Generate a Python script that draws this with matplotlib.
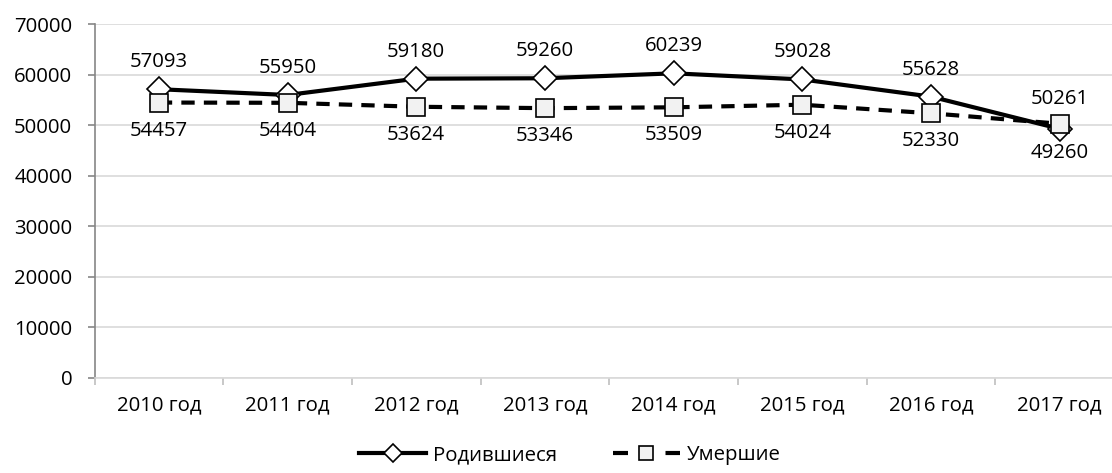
import matplotlib
matplotlib.use("Agg")
import matplotlib.pyplot as plt
from matplotlib.lines import Line2D
from matplotlib.ticker import FixedLocator, NullFormatter

categories = ["2010 год", "2011 год", "2012 год", "2013 год", "2014 год", "2015 год", "2016 год", "2017 год"]
births = [57093, 55950, 59180, 59260, 60239, 59028, 55628, 49260]
deaths = [54457, 54404, 53624, 53346, 53509, 54024, 52330, 50261]
series_names = ["Родившиеся", "Умершие"]
y_ticks = [0, 10000, 20000, 30000, 40000, 50000, 60000, 70000]

plt.rcParams['font.family'] = ['Open Sans', 'DejaVu Sans']
FS = 14.7

W, H = 1112, 473
fig = plt.figure(figsize=(W / 100, H / 100), dpi=100)
ax = fig.add_axes([94.5 / W, (H - 377.7) / H, (1124 - 94.5) / W, (377.7 - 24) / H])

x = list(range(len(categories)))
hb, = ax.plot(x, births, color='black', lw=3, marker='D', ms=12.5,
              mfc='white', mec='black', mew=1.2, zorder=3, label=series_names[0])
hd, = ax.plot(x, deaths, color='black', lw=3, ls=(0, (3.2, 2.2)), marker='s', ms=13.5,
              mfc='#f2f2f2', mec='black', mew=1.2, zorder=4, label=series_names[1])

for i, (b, d) in enumerate(zip(births, deaths)):
    b_above = b >= d
    ax.annotate(str(b), (i, b), textcoords='offset pixels',
                xytext=(0, 27 if b_above else -24), ha='center', va='center', fontsize=FS)
    ax.annotate(str(d), (i, d), textcoords='offset pixels',
                xytext=(0, -28 if b_above else 25), ha='center', va='center', fontsize=FS)

ax.set_xlim(-0.5, len(categories) - 0.5)
ax.set_ylim(0, 70000)
ax.set_yticks(y_ticks)
ax.set_yticklabels([str(v) for v in y_ticks], fontsize=FS)
ax.yaxis.grid(True, color='#d9d9d9', lw=1.2)
ax.set_axisbelow(True)

ax.xaxis.set_major_locator(FixedLocator([i - 0.5 for i in range(len(categories) + 1)]))
ax.xaxis.set_major_formatter(NullFormatter())
ax.xaxis.set_minor_locator(FixedLocator(x))
ax.set_xticklabels(categories, minor=True, fontsize=FS)
ax.tick_params(axis='x', which='minor', length=0, pad=13)
ax.tick_params(axis='x', which='major', length=5, color='#bfbfbf', width=1.2)
ax.tick_params(axis='y', length=5, color='#868686', width=1.2, pad=11)

for s in ['top', 'right']:
    ax.spines[s].set_visible(False)
ax.spines['left'].set_color('#868686')
ax.spines['left'].set_linewidth(1.2)
ax.spines['bottom'].set_color('#d9d9d9')
ax.spines['bottom'].set_linewidth(1.2)

leg_b = Line2D([], [], color='black', lw=3, marker='D', ms=9.5, mfc='white', mec='black', mew=1.2)
leg_d = Line2D([], [], color='black', lw=3, ls=(0, (3.6, 9.0)), marker='s', ms=10,
               mfc='#f2f2f2', mec='black', mew=1.2)
fig.legend([leg_b, leg_d], series_names, loc='center', bbox_to_anchor=(570 / W, 1 - 455 / H), ncol=2,
           frameon=False, fontsize=FS, handlelength=3.3, columnspacing=2.7,
           handletextpad=0.35)

fig.savefig('out.png', dpi=100)
